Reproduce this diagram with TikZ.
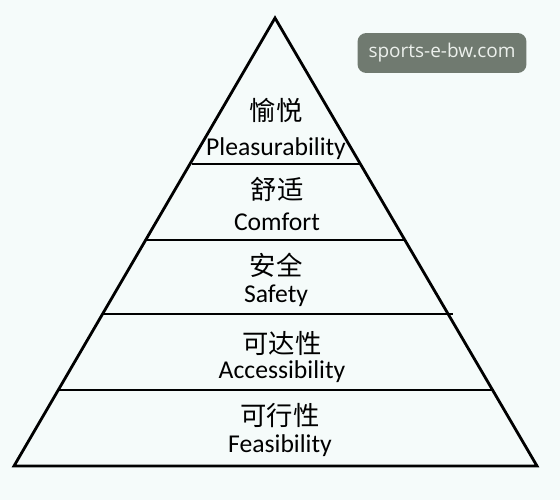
\documentclass[tikz,border=0pt]{standalone}
\usepackage{fontspec}
\setmainfont{Carlito}
\newfontfamily\cjk{Noto Sans CJK SC}
\newfontfamily\markfont{Open Sans}
\usetikzlibrary{positioning, calc}
\definecolor{bgcol}{RGB}{245,251,250}
\definecolor{markcol}{RGB}{112,122,112}
\definecolor{marktext}{RGB}{236,240,236}

\tikzset{
  cnlabel/.style={font=\cjk\fontsize{15}{17}\selectfont, inner sep=0pt},
  enlabel/.style={font=\fontsize{14.6}{17}\selectfont, inner sep=0pt},
  watermark/.style={fill=markcol, rounded corners=5pt, text=marktext,
    minimum width=3.38cm, minimum height=0.8cm, font=\markfont\fontsize{10.8}{12}\selectfont}
}

\begin{document}
\begin{tikzpicture}[x=0.02cm, y=-0.02cm, line width=1.6pt]
      % Background
      \fill[bgcol] (0,0) rectangle (560,500);
      \useasboundingbox (0,0) rectangle (560,500);

      % Outline
      \coordinate (apex) at (275,18);
      \coordinate (baseL) at (14,466);
      \coordinate (baseR) at (537,466);
      \draw[line join=miter] (apex) -- (baseR) -- (baseL) -- cycle;

      % Dividers
      \draw (192,164) -- (361,164);
      \draw (147,240) -- (406,240);
      \draw (103,314) -- (453,314);
      \draw (58,390) -- (492,390);

      % Levels
      \node[cnlabel] (pleaCn) at (276,110) {愉悦};
      \node[enlabel] (pleaEn) at (276,149) {Pleasurability};
      \node[cnlabel] (comfCn) at (277,189) {舒适};
      \node[enlabel] (comfEn) at (277,222) {Comfort};
      \node[cnlabel] (safeCn) at (276,265) {安全};
      \node[enlabel] (safeEn) at (276,296) {Safety};
      \node[cnlabel] (accCn) at (282,343) {可达性};
      \node[enlabel] (accEn) at (282,372) {Accessibility};
      \node[cnlabel] (feaCn) at (280,416) {可行性};
      \node[enlabel] (feaEn) at (280,446) {Feasibility};

      % Watermark
      \node[watermark] (mark) at (442,53) {sports-e-bw.com};
\end{tikzpicture}
\end{document}
